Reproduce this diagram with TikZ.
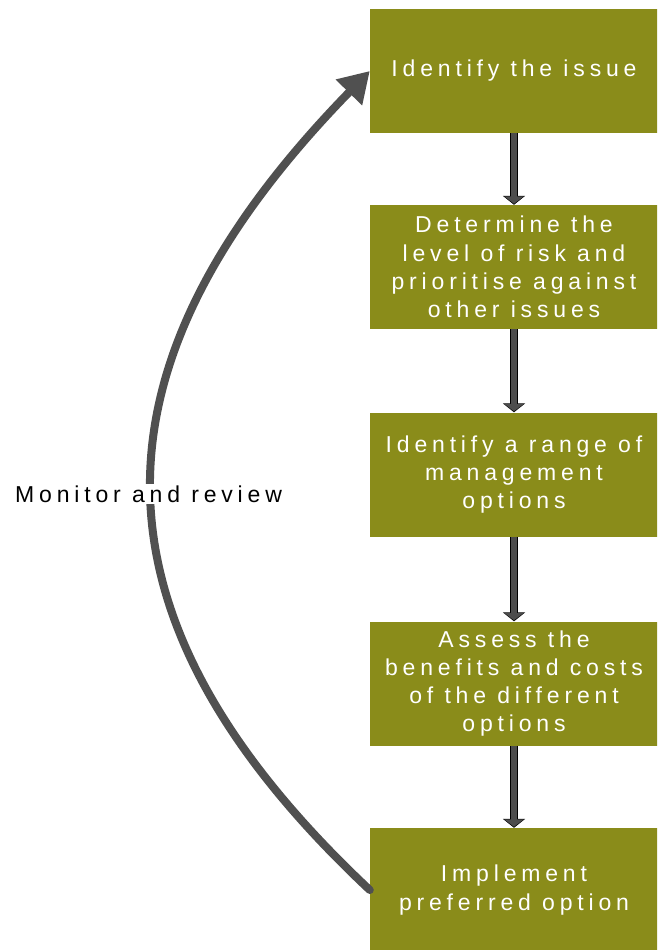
\documentclass[tikz,border=0pt]{standalone}
\usepackage{fontspec}
\setmainfont{Liberation Sans}
\newfontfamily\spacedfont[LetterSpace=21]{Liberation Sans}
\usetikzlibrary{arrows.meta}
\definecolor{boxolive}{HTML}{8A8C1A}
\definecolor{arrowgray}{HTML}{4D4D4D}
\definecolor{curvegray}{HTML}{505050}
\tikzset{
  stepbox/.style={fill=boxolive, draw=none, minimum width=288pt, minimum height=124pt,
    inner sep=0pt, text=white, align=center,
    font={\spacedfont\fontsize{23pt}{28.3pt}\selectfont}},
  vout/.style={line width=8pt, draw=black, -{Triangle[width=22pt,length=9pt]}},
  vin/.style={line width=6pt, draw=arrowgray, shorten >=1pt, -{Triangle[width=19.5pt,length=7.5pt]}},
  loopline/.style={line width=8pt, draw=curvegray, line cap=round, -{Triangle[width=35pt,length=30pt]}},
  looplabel/.style={fill=white, inner sep=2pt, text=black,
    font={\spacedfont\fontsize{23pt}{28.3pt}\selectfont}}
}
\begin{document}
\begin{tikzpicture}[x=1pt,y=-1pt]
\useasboundingbox (0,0) rectangle (657,950);
\clip (0,0) rectangle (657,950);
\node[stepbox] (b1) at (514,71) {Identify the issue};
\node[stepbox] (b2) at (514,267) {Determine the\\level of risk and\\prioritise against\\other issues};
\node[stepbox] (b3) at (514,474.5) {Identify a range of\\management\\options};
\node[stepbox] (b4) at (514,683.5) {Assess the\\benefits and costs\\of the different\\options};
\node[stepbox] (b5) at (514,890) {Implement\\preferred option};
\foreach \a/\b in {b1/b2,b2/b3,b3/b4,b4/b5}{
  \draw[vout] (\a.south) -- (\b.north);
  \draw[vin] (\a.south) -- (\b.north);
}
\draw[loopline] (b5.west) .. controls (80,618) and (80,368) .. (b1.west);
\node[looplabel, anchor=west] (mr) at (13,494) {Monitor and review};
\end{tikzpicture}
\end{document}
